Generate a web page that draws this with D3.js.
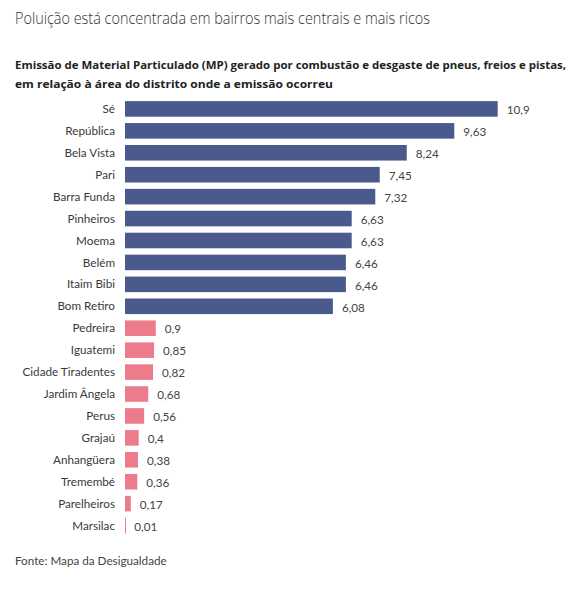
<!DOCTYPE html>
<html><head><meta charset="utf-8">
<script src="https://cdn.jsdelivr.net/npm/d3@7"></script>
<style>body{margin:0;background:#fff;} svg{display:block;}</style>
</head><body>
<script>
const categories = ["Sé","República","Bela Vista","Pari","Barra Funda","Pinheiros","Moema","Belém","Itaim Bibi","Bom Retiro","Pedreira","Iguatemi","Cidade Tiradentes","Jardim Ângela","Perus","Grajaú","Anhangüera","Tremembé","Parelheiros","Marsilac"];
const values = [10.9,9.63,8.24,7.45,7.32,6.63,6.63,6.46,6.46,6.08,0.9,0.85,0.82,0.68,0.56,0.4,0.38,0.36,0.17,0.01];
const groups = ["rich","rich","rich","rich","rich","rich","rich","rich","rich","rich","poor","poor","poor","poor","poor","poor","poor","poor","poor","poor"];
const colors = {rich:"#4a5a8c", poor:"#ec7b8b"};
const title = "Poluição está concentrada em bairros mais centrais e mais ricos";
const subtitle = ["Emissão de Material Particulado (MP) gerado por combustão e desgaste de pneus, freios e pistas,","em relação à área do distrito onde a emissão ocorreu"];
const source = "Fonte: Mapa da Desigualdade";

const W=585,H=590;
const svg=d3.select("body").append("svg").attr("width",W).attr("height",H);
const font="'Open Sans', 'Noto Sans', sans-serif";
const font2="Lato, 'Open Sans', sans-serif";

svg.append("text").attr("x",15).attr("y",24).attr("font-family",font).attr("font-weight",300)
  .attr("font-size",16.5).attr("fill","#333").attr("textLength",415).attr("lengthAdjust","spacingAndGlyphs").text(title);
const subW=[551,318];
subtitle.forEach((s,i)=>svg.append("text").attr("x",15).attr("y",69+i*19).attr("font-family",font)
  .attr("font-weight",700).attr("font-size",11.3).attr("fill","#222")
  .attr("textLength",subW[i]).attr("lengthAdjust","spacingAndGlyphs").text(s));

const x=d3.scaleLinear().domain([0,10.9]).range([125,497.7]);
const y=d3.scaleBand().domain(categories).range([98.5,536]).paddingInner(0.29).paddingOuter(0.12);

const g=svg.append("g");
g.selectAll("rect").data(categories).join("rect")
  .attr("x",x(0)).attr("y",d=>y(d)).attr("height",y.bandwidth())
  .attr("width",(d,i)=>Math.max(1,x(values[i])-x(0)))
  .attr("fill",(d,i)=>colors[groups[i]]);

g.selectAll("text.cat").data(categories).join("text").attr("class","cat")
  .attr("x",115).attr("y",d=>y(d)+y.bandwidth()/2).attr("dy","0.35em")
  .attr("text-anchor","end").attr("font-family",font2).attr("font-size",11.7).attr("fill","#3a3a3a").text(d=>d);

const fmt=v=>String(v).replace(".",",");
g.selectAll("text.val").data(categories).join("text").attr("class","val")
  .attr("x",(d,i)=>x(values[i])+9).attr("y",d=>y(d)+y.bandwidth()/2).attr("dy","0.45em")
  .attr("font-family",font2).attr("font-size",11.7).attr("fill","#444").text((d,i)=>fmt(values[i]));

svg.append("text").attr("x",15).attr("y",565).attr("font-family",font2).attr("font-size",11.7)
  .attr("fill","#444").text(source);
</script>
</body></html>
